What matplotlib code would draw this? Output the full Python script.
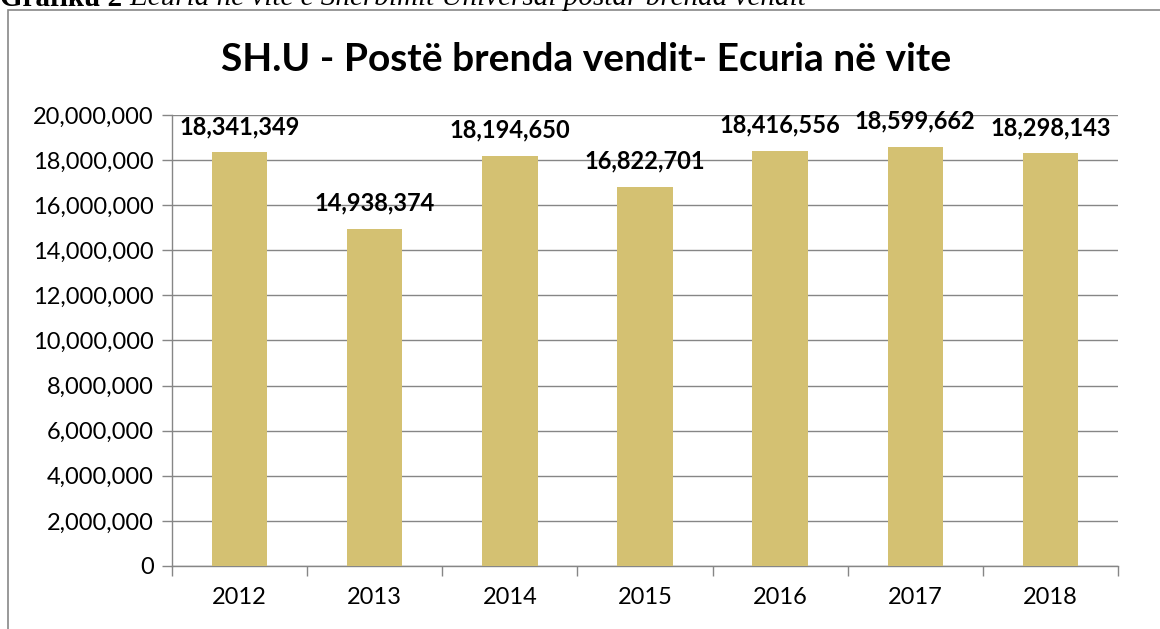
import matplotlib.pyplot as plt
from matplotlib.ticker import FuncFormatter, MultipleLocator
from matplotlib.patches import Rectangle
import numpy as np

years = ["2012", "2013", "2014", "2015", "2016", "2017", "2018"]
values = [18341349, 14938374, 18194650, 16822701, 18416556, 18599662, 18298143]

plt.rcParams["font.family"] = ["Lato", "DejaVu Sans"]

fig = plt.figure(figsize=(11.6, 6.29), dpi=100)
ax = fig.add_axes([0.1483, 0.1002, 0.8155, 0.717])

x = np.arange(len(years))
ax.bar(x, values, width=0.41, color="#D4C172", zorder=3)
for xi, v in zip(x, values):
    ax.text(xi, v + 1.15e6, f"{v:,}", ha="center", va="center",
            fontsize=17, fontweight="bold", color="black", zorder=4)

ax.set_xlim(-0.5, len(years) - 0.5)
ax.set_ylim(0, 20000000)
ax.yaxis.set_major_locator(MultipleLocator(2000000))
ax.yaxis.set_major_formatter(FuncFormatter(lambda v, p: f"{int(v):,}"))
ax.set_xticks(x)
ax.set_xticklabels(years)
ax.set_xticks(np.arange(-0.5, len(years)), minor=True)
ax.tick_params(axis="x", which="major", length=0, labelsize=17, pad=15)
ax.tick_params(axis="x", which="minor", length=7, color="#868686", width=1)
ax.tick_params(axis="y", length=7, color="#868686", width=1, labelsize=17, pad=6)
ax.grid(axis="y", color="#868686", linewidth=1, zorder=0)
for s in ["top", "right"]:
    ax.spines[s].set_visible(False)
for s in ["left", "bottom"]:
    ax.spines[s].set_color("#868686")
    ax.spines[s].set_linewidth(1)

fig.text(0.505, 0.905, "SH.U - Postë brenda vendit- Ecuria në vite",
         ha="center", va="center", fontsize=28, fontweight="bold")

# outer chart border (clipped by the image edges)
fig.patches.append(Rectangle((0.0065, -0.1), 1.2, 1.084, transform=fig.transFigure,
                             fill=False, edgecolor="#888888", linewidth=1.2))
# caption of the document, cut at the top
fig.text(0.0, 1.003, "Grafiku 2", ha="left", va="center", fontsize=21,
         fontweight="bold", family="Liberation Serif")
fig.text(0.097, 1.003, "- Ecuria në vite e Shërbimit Universal postar brenda vendit",
         ha="left", va="center", fontsize=21, style="italic", family="Liberation Serif")

fig.savefig("out.png", dpi=100)
